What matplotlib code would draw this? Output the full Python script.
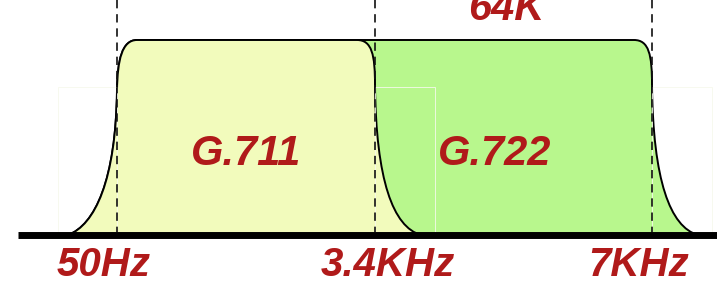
import matplotlib
matplotlib.use("Agg")
import matplotlib.pyplot as plt
from matplotlib.path import Path
from matplotlib.patches import PathPatch, Rectangle

# ---- content ----
freq_labels = ["50Hz", "3.4KHz", "7KHz"]
band_names = ["G.711", "G.722"]
band_edges = [(0, 1), (0, 2)]          # indices into freq_labels (low, high cutoff)
rate_label = "64K"

# ---- layout (pixel-like canvas units) ----
W, H = 717, 284
cut_x = [117, 375, 652]                 # x of each cutoff marker
base_y = 235                            # baseline
top_y = 40                              # passband top
fills = ["#F2FBBC", "#B8F78D"]
text_color = "#B01A1A"
font = dict(family="Liberation Sans", weight="bold", style="italic", color=text_color)


def band_path(xl, xr):
    """Closed passband outline from a low cutoff xl to a high cutoff xr."""
    verts = [
        (xl - 49, base_y),
        (xl - 22, base_y - 10), (xl - 1, base_y - 55), (xl, base_y - 145),
        (xl + 0.5, top_y + 20), (xl + 5, top_y), (xl + 20, top_y),
        (xr - 18, top_y),
        (xr - 3, top_y), (xr, top_y + 15), (xr, base_y - 150),
        (xr + 1, base_y - 55), (xr + 18, base_y - 8), (xr + 46, base_y),
        (xl - 49, base_y),
    ]
    codes = [Path.MOVETO,
             Path.CURVE4, Path.CURVE4, Path.CURVE4,
             Path.CURVE4, Path.CURVE4, Path.CURVE4,
             Path.LINETO,
             Path.CURVE4, Path.CURVE4, Path.CURVE4,
             Path.CURVE4, Path.CURVE4, Path.CURVE4,
             Path.CLOSEPOLY]
    return Path(verts, codes)


fig = plt.figure(figsize=(W / 100, H / 100), dpi=100)
ax = fig.add_axes([0, 0, 1, 1])
ax.set_xlim(0, W)
ax.set_ylim(H, 0)
ax.axis("off")

# faint helper boxes seen in the reference
for x0, x1 in [(58, cut_x[0]), (cut_x[1], 435), (cut_x[2], 712)]:
    ax.add_patch(Rectangle((x0, 87), x1 - x0, base_y - 87, fill=False,
                           ec="#f6f9ec", lw=0.6, zorder=4))

# bands: wider band drawn first (behind)
order = sorted(range(len(band_names)), key=lambda i: -(band_edges[i][1] - band_edges[i][0]))
for z, i in enumerate(order):
    lo, hi = band_edges[i]
    p = band_path(cut_x[lo], cut_x[hi])
    ax.add_patch(PathPatch(p, fc=fills[i], ec="black", lw=1.4, zorder=2 + z))

# band name labels
name_x = [246, 495]
for i, name in enumerate(band_names):
    ax.text(name_x[i], 165, name, ha="center", va="baseline", fontsize=30, zorder=6, **font)

# dashed cutoff markers
for x in cut_x:
    ax.plot([x, x], [0, base_y - 3], color="#111111", lw=1.2, ls=(0, (5, 3.5)), zorder=7)

# baseline
ax.plot([18, W], [base_y, base_y], color="black", lw=5, solid_capstyle="butt", zorder=8)

# frequency labels
label_x = [104, 388, 639]
for x, lab in zip(label_x, freq_labels):
    ax.text(x, 276, lab, ha="center", va="baseline", fontsize=29, zorder=9, **font)

# rate label at top (partially cut, as in the reference)
ax.text(506, 20, rate_label, ha="center", va="baseline", fontsize=30, zorder=9, **font)

fig.savefig("out.png", dpi=100)
